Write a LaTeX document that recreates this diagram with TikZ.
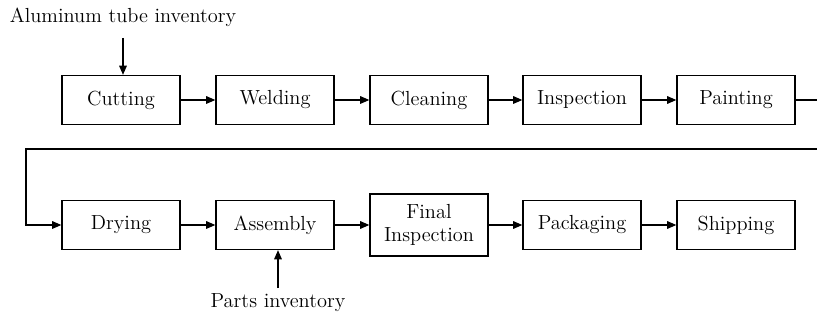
\documentclass[tikz,border=0pt]{standalone}
\usepackage{tikz}
\usetikzlibrary{arrows.meta, positioning}

\begin{document}
\begin{tikzpicture}[
  x=0.025cm, y=-0.025cm,
  stage/.style={rectangle, draw=black, line width=0.9pt, minimum width=2.95cm, minimum height=1.225cm,
                inner sep=1pt, align=center, font=\fontsize{14.5}{16.5}\selectfont},
  arrow/.style={-{Triangle[length=2.3mm, width=1.9mm]}, line width=0.9pt},
  line/.style={line width=0.9pt},
  label/.style={font=\fontsize{14.5}{16.5}\selectfont, inner sep=1pt}
]
\useasboundingbox (0,0) rectangle (817,320);

% First row
\node[stage] (cut)   at (121,100) {Cutting};
\node[stage] (weld)  at (275,100) {Welding};
\node[stage] (clean) at (429,100) {Cleaning};
\node[stage] (insp)  at (582,100) {Inspection};
\node[stage] (paint) at (736,100) {Painting};

% Second row
\node[stage] (dry)   at (121,225) {Drying};
\node[stage] (asm)   at (275,225) {Assembly};
\node[stage, minimum height=1.55cm] (final) at (429,225) {Final\\Inspection};
\node[stage] (pack)  at (582,225) {Packaging};
\node[stage] (ship)  at (736,225) {Shipping};

% Inventories
\node[label] (tube)  at (123,17)  {Aluminum tube inventory};
\node[label] (parts) at (278,303) {Parts inventory};

\draw[arrow, shorten <=7pt] (tube.south) -- (tube.south |- cut.north);
\draw[arrow, shorten <=3pt] (parts.north) -- (parts.north |- asm.south);

% Flow arrows
\draw[arrow] (cut) -- (weld);
\draw[arrow] (weld) -- (clean);
\draw[arrow] (clean) -- (insp);
\draw[arrow] (insp) -- (paint);
\draw[arrow] (dry) -- (asm);
\draw[arrow] (asm) -- (final);
\draw[arrow] (final) -- (pack);
\draw[arrow] (pack) -- (ship);

% Return line
\coordinate (edge) at (817,100);
\coordinate (loopR) at (817,149);
\coordinate (loopL) at (26,149);
\draw[line] (paint.east) -- (edge);
\draw[arrow] (loopR) -- (loopL) |- (dry.west);

\end{tikzpicture}
\end{document}
